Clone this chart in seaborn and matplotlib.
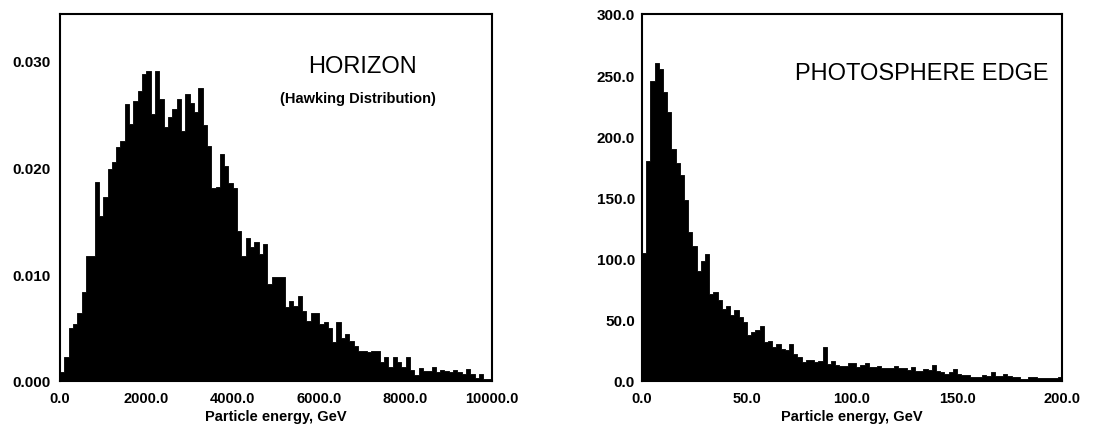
import numpy as np
import pandas as pd
import matplotlib
matplotlib.use("Agg")
import matplotlib.pyplot as plt
from matplotlib.ticker import StrMethodFormatter
import seaborn as sns

# ---- Horizon spectrum (Hawking distribution), 100 GeV bins over 0-10000 GeV ----
horizon_bin_width = 100.0
horizon_density = [
    0.0008, 0.0022, 0.0050, 0.0053, 0.0064, 0.0083, 0.0117, 0.0117, 0.0186, 0.0154,
    0.0172, 0.0198, 0.0205, 0.0219, 0.0224, 0.0259, 0.0240, 0.0262, 0.0271, 0.0287,
    0.0290, 0.0250, 0.0290, 0.0264, 0.0237, 0.0247, 0.0254, 0.0264, 0.0234, 0.0268,
    0.0260, 0.0251, 0.0274, 0.0239, 0.0220, 0.0180, 0.0181, 0.0212, 0.0201, 0.0185,
    0.0180, 0.0140, 0.0117, 0.0134, 0.0125, 0.0130, 0.0119, 0.0128, 0.0091, 0.0097,
    0.0097, 0.0097, 0.0069, 0.0075, 0.0070, 0.0079, 0.0065, 0.0056, 0.0064, 0.0064,
    0.0053, 0.0055, 0.0050, 0.0036, 0.0055, 0.0040, 0.0044, 0.0037, 0.0033, 0.0028,
    0.0028, 0.0027, 0.0028, 0.0028, 0.0018, 0.0022, 0.0013, 0.0022, 0.0018, 0.0013,
    0.0022, 0.0010, 0.0006, 0.0012, 0.0009, 0.0009, 0.0013, 0.0008, 0.0010, 0.0009,
    0.0008, 0.0010, 0.0008, 0.0007, 0.0011, 0.0007, 0.0003, 0.0007, 0.0002, 0.0002,
]

# ---- Photosphere-edge spectrum, 2 GeV bins over 0-200 GeV ----
photo_bin_width = 2.0
photo_counts = [
    105, 180, 245, 260, 255, 236, 220, 190, 178, 168,
    148, 122, 110, 90, 98, 104, 71, 73, 66, 59,
    61, 54, 58, 52, 48, 38, 40, 42, 45, 32,
    33, 28, 30, 26, 25, 30, 22, 20, 15.5, 17,
    17, 15.5, 16, 28, 14, 16, 13, 12, 12, 15,
    15, 11.5, 13, 15, 11.5, 11.5, 12.5, 10.5, 10.5, 10.5,
    12, 10.4, 10.4, 9, 11.2, 8, 8.5, 9.8, 9, 13,
    8.4, 7.5, 6, 7, 9.8, 5.7, 4.5, 5, 3.5, 3.5,
    3.5, 5, 4, 7.6, 4, 4, 5.7, 4, 3, 3,
    1.6, 2, 3, 3, 2.3, 2.3, 2.6, 2.6, 2.6, 3,
]

horizon_xticks = [0, 2000, 4000, 6000, 8000, 10000]
horizon_yticks = [0.0, 0.010, 0.020, 0.030]
photo_xticks = [0, 50, 100, 150, 200]
photo_yticks = [0, 50, 100, 150, 200, 250, 300]

xlabel_text = "Particle energy, GeV"

sns.set_style("white")
plt.rcParams.update({
    "font.family": ["Liberation Sans", "DejaVu Sans"],
    "text.color": "black",
    "axes.labelcolor": "black",
    "xtick.color": "black",
    "ytick.color": "black",
})

W, H = 1095, 427
fig = plt.figure(figsize=(W / 100, H / 100), dpi=100)

ax_h = fig.add_axes([60 / W, 1 - 382 / H, 432 / W, 367 / H])
ax_p = fig.add_axes([642 / W, 1 - 382 / H, 420 / W, 367 / H])


def draw_hist(ax, values, width):
    n = len(values)
    edges = np.arange(n + 1) * width
    df = pd.DataFrame({"energy": edges[:-1] + width / 2,
                       "weight": np.asarray(values, dtype=float)})
    sns.histplot(data=df, x="energy", weights="weight", binwidth=width,
                 binrange=(0, n * width), element="step", fill=True,
                 color="black", alpha=1.0, linewidth=0.6, ax=ax)


draw_hist(ax_h, horizon_density, horizon_bin_width)
draw_hist(ax_p, photo_counts, photo_bin_width)

ax_h.set_xlim(0, 10000)
ax_h.set_ylim(0, 0.0343)
ax_h.set_xticks(horizon_xticks)
ax_h.set_yticks(horizon_yticks)
ax_h.xaxis.set_major_formatter(StrMethodFormatter("{x:.1f}"))
ax_h.yaxis.set_major_formatter(StrMethodFormatter("{x:.3f}"))

ax_p.set_xlim(0, 200)
ax_p.set_ylim(0, 300)
ax_p.set_xticks(photo_xticks)
ax_p.set_yticks(photo_yticks)
ax_p.xaxis.set_major_formatter(StrMethodFormatter("{x:.1f}"))
ax_p.yaxis.set_major_formatter(StrMethodFormatter("{x:.1f}"))

for ax, ypad in ((ax_h, 7), (ax_p, 5)):
    for sp in ax.spines.values():
        sp.set_visible(True)
        sp.set_color("black")
        sp.set_linewidth(1.5)
    ax.tick_params(axis="both", direction="in", length=0, labelcolor="black")
    ax.tick_params(axis="x", pad=7, labelsize=10.5)
    ax.tick_params(axis="y", pad=ypad, labelsize=11)
    for lab in ax.get_xticklabels() + ax.get_yticklabels():
        lab.set_fontweight("bold")
    ax.set_xlabel(xlabel_text, fontsize=10.5, fontweight="bold", labelpad=3)
    ax.set_ylabel("")
    ax.grid(False)

fig.text(362 / W, 1 - 67 / H, "HORIZON", ha="center", va="center", fontsize=17)
fig.text(358 / W, 1 - 99 / H, "(Hawking Distribution)", ha="center", va="center",
         fontsize=10.5, fontweight="bold")
fig.text(922 / W, 1 - 74 / H, "PHOTOSPHERE EDGE", ha="center", va="center",
         fontsize=17)

fig.savefig("out.png", dpi=100, facecolor="white")
